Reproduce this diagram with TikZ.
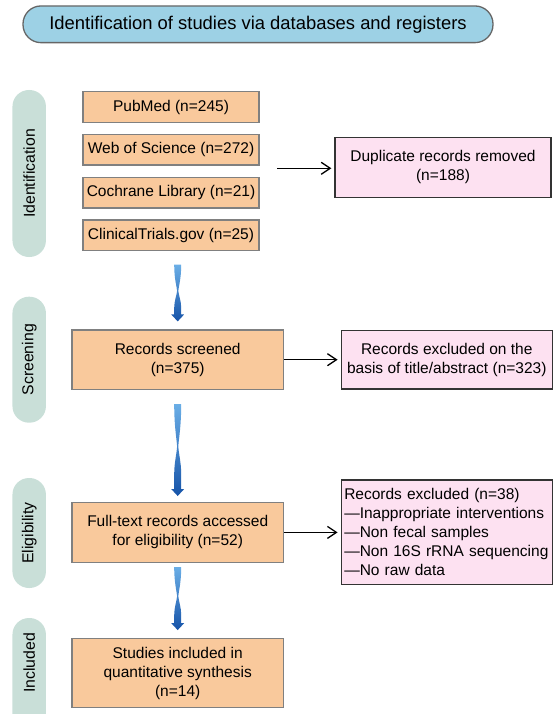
\documentclass[tikz,border=0pt]{standalone}
\usepackage{fontspec}
\setmainfont{Liberation Sans}
\usetikzlibrary{positioning,calc,arrows.meta}

\definecolor{headblue}{HTML}{9DD1E5}
\definecolor{phasegreen}{HTML}{C9DFD8}
\definecolor{boxorange}{HTML}{F9C99C}
\definecolor{boxpink}{HTML}{FDE1F1}
\definecolor{flowlight}{HTML}{6AAEE6}
\definecolor{flowdark}{HTML}{1653A8}

\newcommand{\flowarrow}[2]{%
  \shade[top color=flowlight, bottom color=flowdark]
    ($(#1)+(-3.5,0)$) -- ($(#1)+(3.5,0)$)
    .. controls ($(#1)!0.25!(#2)+(3.5,0)$) and ($(#1)!0.38!(#2)+(1,0)$) .. ($(#1)!0.46!(#2)+(0.6,0)$)
    .. controls ($(#1)!0.54!(#2)+(1,0)$) and ($(#1)!0.64!(#2)+(3.5,0)$) .. ($(#1)!0.76!(#2)+(3.5,0)$)
    -- ($(#2)+(3.5,7)$) -- ($(#2)+(6.5,7)$) -- (#2) -- ($(#2)+(-6.5,7)$) -- ($(#2)+(-3.5,7)$)
    -- ($(#1)!0.76!(#2)+(-3.5,0)$)
    .. controls ($(#1)!0.64!(#2)+(-3.5,0)$) and ($(#1)!0.54!(#2)+(-1,0)$) .. ($(#1)!0.46!(#2)+(-0.6,0)$)
    .. controls ($(#1)!0.38!(#2)+(-1,0)$) and ($(#1)!0.25!(#2)+(-3.5,0)$) .. cycle;}

\begin{document}
\begin{tikzpicture}[x=1pt, y=1pt,
            >={Straight Barb[length=9pt,width=12pt]},
            font=\fontsize{15.5}{19}\selectfont,
            headbox/.style={draw=black!60, fill=headblue, line width=1.3pt,
                rounded corners=18pt, minimum width=470pt, minimum height=36.7pt,
                font=\fontsize{18.4}{22}\selectfont},
            phase/.style={fill=phasegreen, rotate=90, rounded corners=16.5pt,
                minimum height=33.5pt, inner sep=0pt, font=\fontsize{15.8}{19}\selectfont},
            srcbox/.style={draw=black!50, fill=boxorange, line width=1.3pt,
                minimum width=176pt, minimum height=30.7pt, inner sep=0pt},
            mainbox/.style={draw=black!50, fill=boxorange, line width=1.3pt,
                minimum width=211.5pt, align=center},
            exbox/.style={draw=black!80, fill=boxpink, line width=1.3pt,
                minimum width=211pt, align=center},
            link/.style={->, line width=1.3pt, shorten >=3pt}]

        \useasboundingbox (0,0) rectangle (552,-714);

        \node[headbox] (head) at (258,-24.3) {Identification of studies via databases and registers};

        \node[phase, minimum width=167pt] (ident)  at (29.2,-173.5) {Identification};
        \node[phase, minimum width=126pt] (screen) at (29.2,-359.7) {Screening};
        \node[phase, minimum width=110pt] (elig)   at (29.2,-533)   {Eligibility};
        \node[phase, minimum width=114pt] (incl)   at (29.2,-675)   {\hspace*{24pt}Included};

        \node[srcbox] (pub)                          at (171,-107) {PubMed (n=245)};
        \node[srcbox] (wos)  [below=10.8pt of pub]  {Web of Science (n=272)};
        \node[srcbox] (coch) [below=10.8pt of wos]  {Cochrane Library (n=21)};
        \node[srcbox] (clin) [below=10.8pt of coch] {ClinicalTrials.gov (n=25)};

        \node[exbox, minimum width=216pt, minimum height=60pt] (dup) at (443,-167.3)
            {Duplicate records removed\\(n=188)};

        \node[mainbox, minimum height=59.3pt] (scr)   at (177.7,-359.7) {Records screened\\(n=375)};
        \node[mainbox, minimum height=59.5pt] (full)  [below=112pt of scr]
            {Full-text records accessed\\for eligibility (n=52)};
        \node[mainbox, minimum height=69.3pt] (study) [below=75pt of full]
            {Studies included in\\quantitative synthesis\\(n=14)};

        \node[exbox, minimum height=58.3pt] (exscr)  [right=56.5pt of scr]
            {Records excluded on the\\basis of title/abstract (n=323)};
        \node[exbox, minimum height=104.7pt, align=left, text width=205pt, inner xsep=3pt] (exfull) [right=56.5pt of full]
            {Records excluded (n=38)\\---Inappropriate interventions\\---Non fecal samples\\---Non 16S rRNA sequencing\\---No raw data};

        \coordinate (srcout) at (277,-168.3);
        \draw[link] (srcout) -- (srcout -| dup.west);
        \draw[link] (scr) -- (exscr);
        \draw[link] (full) -- (exfull.west |- full.east);

        \coordinate (f1a) at ($(clin.south -| scr.north)+(0,-13.3)$);
        \coordinate (f1b) at ($(scr.north)+(0,8)$);
        \coordinate (f2a) at ($(scr.south)+(0,-14)$);
        \coordinate (f2b) at ($(full.north)+(0,6)$);
        \coordinate (f3a) at ($(full.south)+(0,-4.3)$);
        \coordinate (f3b) at ($(study.north)+(0,7.7)$);
        \flowarrow{f1a}{f1b}
        \flowarrow{f2a}{f2b}
        \flowarrow{f3a}{f3b}

    \end{tikzpicture}
\end{document}
